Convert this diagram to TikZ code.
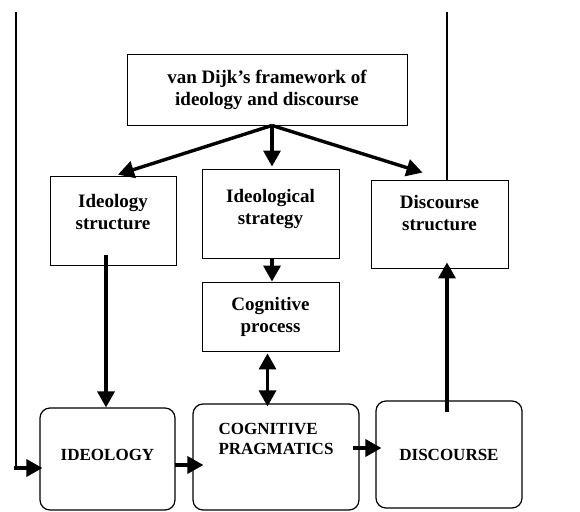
\documentclass[tikz,border=0pt]{standalone}
\usepackage{fontspec}
\setmainfont{Liberation Serif}
\usetikzlibrary{arrows.meta}

\begin{document}
\begin{tikzpicture}[x=1pt,y=-1pt,font=\bfseries\fontsize{19}{22}\selectfont,
  box/.style={draw,line width=0.9pt,align=center,inner sep=2pt},
  rbox/.style={draw,line width=1.2pt,rounded corners=10pt,align=center,font=\bfseries\fontsize{17}{20}\selectfont},
  arr/.style={line width=3.4pt,-{Triangle[length=16pt,width=17pt]}},
  dblarr/.style={line width=3.4pt,{Triangle[length=16pt,width=17pt]}-{Triangle[length=16pt,width=17pt]}},
  feed/.style={line width=1.3pt}]
\useasboundingbox (0,0) rectangle (580,511);
% boxes
\node[box,minimum width=280pt,minimum height=71pt] (frame) at (267,89.5) {van Dijk’s framework of\\ideology and discourse};
\node[box,minimum width=126pt,minimum height=89pt,text depth=18pt] (idstruct) at (113,220.5) {Ideology\\structure};
\node[box,minimum width=137pt,minimum height=89pt,text depth=14pt] (strategy) at (270.5,213.5) {Ideological\\strategy};
\node[box,minimum width=137pt,minimum height=88pt,text depth=22pt] (dstruct) at (439.5,224) {Discourse\\structure};
\node[box,minimum width=137pt,minimum height=69pt] (cogproc) at (270.5,316.5) {Cognitive\\process};
\node[rbox,minimum width=135pt,minimum height=102pt,text depth=8pt] (ideo) at (107.5,459) {IDEOLOGY};
\node[rbox,minimum width=166pt,minimum height=106pt,text depth=36pt,align=left] (cogprag) at (276,457) {COGNITIVE\\PRAGMATICS};
\node[rbox,minimum width=146pt,minimum height=107pt] (disc) at (449,454.5) {DISCOURSE};
% feedback lines
\coordinate (ltop) at (16,12);
\coordinate (lbot) at (16,468);
\coordinate (rtop) at (447,12);
\coordinate (fork) at ([xshift=5pt]frame.south);
\draw[feed] (ltop) -- (lbot);
\draw[feed] (rtop) -- (rtop |- dstruct.north);
% arrows
\draw[arr] (fork) -- ([xshift=5pt,yshift=1pt]idstruct.north);
\draw[arr] (fork) -- ([yshift=2pt]fork |- strategy.north);
\draw[arr] (fork) -- ([xshift=-17pt,yshift=7pt]dstruct.north);
\draw[arr] (fork |- strategy.south) -- (fork |- cogproc.north);
\draw[dblarr] ([xshift=-3pt,yshift=-2pt]cogproc.south) -- ([xshift=-3pt,yshift=-3pt]cogproc.south |- cogprag.north);
\draw[arr] ([xshift=-7pt,yshift=10pt]idstruct.south) -- ([xshift=-7pt]idstruct.south |- ideo.north);
\draw[arr] ([xshift=-2pt]lbot) -- ([xshift=3pt]lbot -| ideo.west);
\draw[arr] ([xshift=-1pt,yshift=-6pt]ideo.east) -- ([xshift=11pt,yshift=-6pt]ideo.east -| cogprag.west);
\draw[arr] ([xshift=-7pt,yshift=9pt]cogprag.east) -- ([xshift=6pt,yshift=9pt]cogprag.east -| disc.west);
\draw[arr] ([yshift=-12pt]rtop |- disc.north) -- ([yshift=6pt]rtop |- dstruct.south);
\end{tikzpicture}
\end{document}
